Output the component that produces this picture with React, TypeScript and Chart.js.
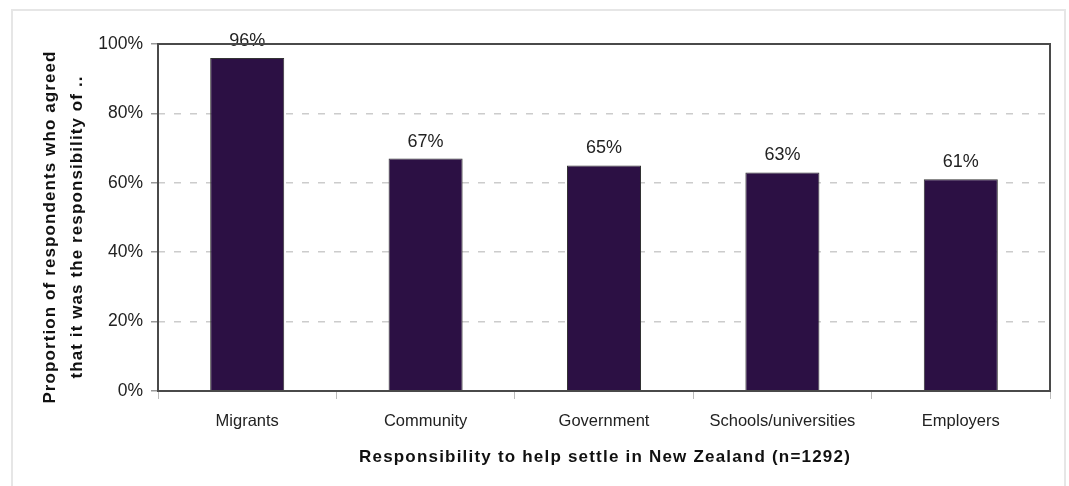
import React, { useEffect, useRef } from "react";
import { Chart, registerables } from "chart.js";

Chart.register(...registerables);

const categories = ["Migrants", "Community", "Government", "Schools/universities", "Employers"];
const values = [96, 67, 65, 63, 61];
const yTicks = [0, 20, 40, 60, 80, 100];
const yTitle = ["Proportion of respondents who agreed", "that it was the responsibility of .."];
const xTitle = "Responsibility to help settle in New Zealand (n=1292)";

const FONT = "Arial, 'Liberation Sans', Helvetica, sans-serif";

const framePlugin = {
  id: "frame",
  beforeDraw(chart: any) {
    const ctx = chart.ctx;
    ctx.save();
    ctx.fillStyle = "#ffffff";
    ctx.fillRect(0, 0, chart.width, chart.height);
    ctx.strokeStyle = "#e6e6e6";
    ctx.lineWidth = 2;
    ctx.strokeRect(12, 10, 1053, 490);
    ctx.restore();
  },
  afterDraw(chart: any) {
    const { ctx, chartArea } = chart;
    ctx.save();
    ctx.strokeStyle = "#4a4a4a";
    ctx.lineWidth = 2;
    ctx.strokeRect(chartArea.left, chartArea.top, chartArea.right - chartArea.left, chartArea.bottom - chartArea.top);

    // axis titles
    ctx.fillStyle = "#111";
    ctx.font = `bold 17px ${FONT}`;
    (ctx as any).letterSpacing = "1.2px";
    ctx.textAlign = "center";
    ctx.textBaseline = "middle";
    ctx.fillText(xTitle, (chartArea.left + chartArea.right) / 2 + 1, 457);

    (ctx as any).letterSpacing = "1.1px";
    ctx.translate(0, 227);
    ctx.rotate(-Math.PI / 2);
    ctx.fillText(yTitle[0], 0, 50);
    ctx.fillText(yTitle[1], 0, 77);
    ctx.restore();
  },
  afterDatasetsDraw(chart: any) {
    const ctx = chart.ctx;
    const meta = chart.getDatasetMeta(0);
    ctx.save();
    ctx.font = `18px ${FONT}`;
    ctx.fillStyle = "#222";
    ctx.textAlign = "center";
    ctx.textBaseline = "alphabetic";
    meta.data.forEach((el: any, i: number) => {
      ctx.fillText(`${values[i]}%`, el.x, el.y - 12);
    });
    ctx.restore();
  },
};

export default function App() {
  const ref = useRef<HTMLCanvasElement | null>(null);
  useEffect(() => {
    if (!ref.current) return;
    const chart = new Chart(ref.current, {
      type: "bar",
      data: {
        labels: categories,
        datasets: [
          {
            data: values,
            backgroundColor: "#2c1044",
            borderColor: "#333333",
            borderWidth: 1,
            barPercentage: 0.415,
            categoryPercentage: 1,
          },
        ],
      },
      options: {
        responsive: false,
        animation: false,
        layout: { padding: { top: 44, right: 19, left: 0, bottom: 0 } },
        plugins: {
          legend: { display: false },
          tooltip: { enabled: false },
        },
        scales: {
          x: {
            offset: true,
            grid: {
              display: true,
              drawOnChartArea: false,
              tickLength: 8,
              tickColor: "#bbbbbb",
              offset: true,
            },
            border: { display: false },
            ticks: {
              padding: 13,
              color: "#222",
              font: { family: FONT, size: 16.5 },
            },
            title: { display: false },
            afterFit(scale: any) {
              scale.height = 95;
            },
          },
          y: {
            min: 0,
            max: 100,
            afterBuildTicks(scale: any) {
              scale.ticks = yTicks.map((v) => ({ value: v }));
            },
            grid: {
              color: (c: any) => (c.tick && (c.tick.value === 0 || c.tick.value === 100) ? "rgba(0,0,0,0)" : "#cccccc"),
              tickLength: 7,
              tickColor: "#999999",
              tickBorderDash: [],
              lineWidth: 1.5,
            } as any,
            border: { display: false, dash: [7, 9] },
            ticks: {
              padding: 8,
              color: "#222",
              font: { family: FONT, size: 17.5 },
              callback: (v: any) => `${v}%`,
            },
            title: { display: false },
            afterFit(scale: any) {
              scale.width = 158;
            },
          },
        },
      },
      plugins: [framePlugin],
    });
    return () => chart.destroy();
  }, []);
  return (
    <div style={{ position: "absolute", left: 0, top: 0, width: 1069, height: 486, background: "#fff" }}>
      <canvas ref={ref} width={1069} height={486} />
    </div>
  );
}
